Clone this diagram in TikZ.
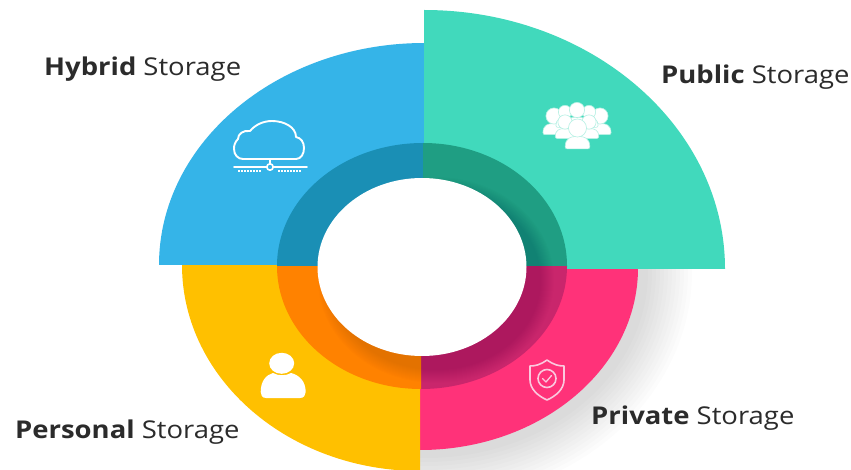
\documentclass[tikz,border=0pt]{standalone}
\usepackage{fontspec}
\setmainfont{Open Sans}[FakeStretch=1.12]
\newcommand\slicefill[7]{\fill[#1] (#2,#3) -- +(#6:#4 and #5) arc[start angle=#6,end angle=#7,x radius=#4,y radius=#5] -- cycle;}
\definecolor{cblue}{HTML}{35B4E8}
\definecolor{cteal}{HTML}{41D9BC}
\definecolor{cyellow}{HTML}{FFC000}
\definecolor{cpink}{HTML}{FF3279}
\definecolor{dblue}{HTML}{1A8FB5}
\definecolor{dteal}{HTML}{1F9E83}
\definecolor{dorange}{HTML}{FF8200}
\definecolor{dpink}{HTML}{C9266C}
\definecolor{shieldline}{HTML}{FBC9DE}
\definecolor{labeltext}{HTML}{2B2B2B}
\definecolor{crowdgap}{HTML}{B5F0E3}
\tikzset{
  storagelabel/.style={anchor=base west,inner sep=0pt,text=labeltext,font=\fontsize{24.5}{29}\selectfont},
  iconline/.style={draw=white,line width=1.9pt,line join=round,line cap=round},
  shieldstroke/.style={draw=shieldline,line width=1.6pt,line join=round,line cap=round},
}
\newcommand\crowdperson[3]{%
  \fill[white,draw=crowdgap,line width=0.6pt,rounded corners=2pt] (#1-#3*1.3,#2+#3*2.2) .. controls (#1-#3*1.3,#2+#3*1) and (#1-#3*0.6,#2+#3*0.9) .. (#1,#2+#3*0.9) .. controls (#1+#3*0.6,#2+#3*0.9) and (#1+#3*1.3,#2+#3*1) .. (#1+#3*1.3,#2+#3*2.2) -- cycle;
  \fill[white,draw=crowdgap,line width=0.6pt] (#1,#2) circle[radius=#3*0.95];
}
\begin{document}
\begin{tikzpicture}[x=1pt,y=-1pt]
\useasboundingbox (0,0) rectangle (851,470);
\fill[white] (0,0) rectangle (851,470);
% soft shadow of the pink sector
\begin{scope}
  \clip (420,269) rectangle (720,470);
  \foreach \d in {48,44,...,2}{
    \fill[black,opacity=0.011] (426,272) ellipse[x radius=218+\d,y radius=182+\d];
  }
\end{scope}
% sectors
\slicefill{cpink}{420}{268}{218}{182}{0}{90}
\slicefill{cyellow}{420}{265}{238}{206}{90}{180}
\slicefill{cblue}{424.5}{265}{265.5}{222}{180}{270}
\slicefill{cteal}{424}{269}{301}{259}{270}{360}
% darker ring
\slicefill{dpink}{421}{266}{146}{123}{0}{90}
\slicefill{dorange}{421}{266}{144}{123}{90}{180}
\slicefill{dblue}{423}{266}{146}{123}{180}{270}
\slicefill{dteal}{423}{266}{144}{123}{270}{360}
% shadow of the central disc on the ring, lower right only
\begin{scope}
  \clip (422,266) ellipse[x radius=145,y radius=123];
  \foreach \d in {14,13,...,1}{
    \fill[black,opacity=0.008] (436,280) ellipse[x radius=104+\d,y radius=89+\d];
  }
\end{scope}
\fill[white] (422,267) ellipse[x radius=104.5,y radius=89];
% cloud icon
\draw[iconline] (243,159) -- (296,159) .. controls (301,159) and (304,154) .. (304,148)
  .. controls (304,142) and (301,138) .. (296,137)
  .. controls (296,127) and (284,121) .. (272,121)
  .. controls (263,121) and (255,125) .. (250,131)
  .. controls (243,130) and (238,134) .. (238,139)
  .. controls (235,142) and (234,145) .. (234,149)
  .. controls (234,155) and (238,159) .. (243,159);
\draw[iconline] (270,159) -- (270,164);
\draw[iconline] (234,167) -- (266,167) (274,167) -- (307,167);
\draw[iconline,line width=1.6pt] (270,167) circle[radius=3.2];
\draw[white,line width=1.8pt,dash pattern=on 1.5pt off 1.5pt] (238,171) -- (262,171) (278,171) -- (302,171);
% crowd icon
\crowdperson{554}{116}{8.5}
\crowdperson{600}{116}{8.5}
\crowdperson{565}{112}{7}
\crowdperson{589}{112}{7}
\crowdperson{577}{110}{8}
\crowdperson{565}{122}{7.5}
\crowdperson{589}{122}{7.5}
\crowdperson{577.5}{128}{9.5}
% person icon
\fill[white] (281.7,363.3) ellipse[x radius=12.5,y radius=10.5];
\fill[white] (266,398) .. controls (262,398) and (260.7,395) .. (260.7,392)
  .. controls (260.7,381) and (266,375) .. (273,373)
  .. controls (278,376) and (286,376) .. (291,373)
  .. controls (299,375) and (305.7,381) .. (305.7,392)
  .. controls (305.7,395) and (304,398) .. (300,398) -- cycle;
% shield icon
\draw[shieldstroke] (547,360) .. controls (540,365) and (535,366) .. (530,366)
  -- (530,380) .. controls (530,389) and (538,396) .. (547,400)
  .. controls (556,396) and (564,389) .. (564,380)
  -- (564,366) .. controls (559,366) and (554,365) .. (547,360) -- cycle;
\draw[shieldstroke] (547,378.5) circle[radius=9];
\draw[shieldstroke,line width=1.3pt] (542.5,378.5) -- (546,382) -- (551.5,375.5);
% labels
\node[storagelabel] (hybrid) at (44,75.5) {\textbf{Hybrid} Storage};
\node[storagelabel] (public) at (661,83.5) {\textbf{Public} Storage};
\node[storagelabel] (personal) at (15,438.5) {\textbf{Personal} Storage};
\node[storagelabel] (private) at (591,424.5) {\textbf{Private} Storage};
\end{tikzpicture}
\end{document}
